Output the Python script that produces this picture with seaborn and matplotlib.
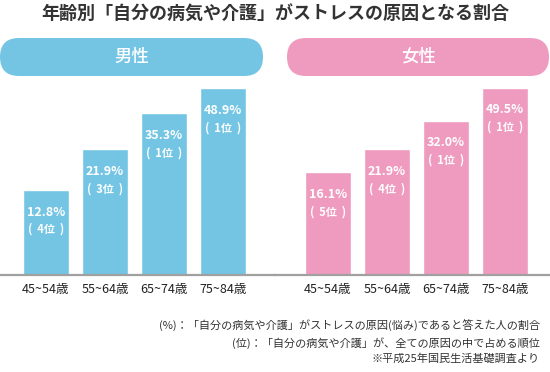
import matplotlib
matplotlib.use("Agg")
import matplotlib.pyplot as plt
import seaborn as sns
from matplotlib.patches import FancyBboxPatch

ages = ["45~54歳", "55~64歳", "65~74歳", "75~84歳"]
male_pct = [12.8, 21.9, 35.3, 48.9]
male_rank = [4, 3, 1, 1]
female_pct = [16.1, 21.9, 32.0, 49.5]
female_rank = [5, 4, 1, 1]

title = "年齢別「自分の病気や介護」がストレスの原因となる割合"
notes = ["(%)：「自分の病気や介護」がストレスの原因(悩み)であると答えた人の割合",
         "(位)：「自分の病気や介護」が、全ての原因の中で占める順位",
         "※平成25年国民生活基礎調査より"]

blue = "#74c5e4"
pink = "#ee9bbf"
dark = "#333333"

sns.set_style("white")
plt.rcParams['font.family'] = ['Noto Sans CJK JP', 'DejaVu Sans']

W, H = 550, 372
fig = plt.figure(figsize=(W/100, H/100), dpi=100)

def px_axes(x0, x1, ytop, ybot):
    return fig.add_axes([x0/W, 1-ybot/H, (x1-x0)/W, (ybot-ytop)/H])

def draw_panel(ax, pct, rank, color, first_center):
    sns.barplot(x=ages, y=pct, color=color, saturation=1, width=0.78, ax=ax)
    ax.set_yscale("log")
    ax.set_ylim(4.15, 51.2)
    span = 275/59
    xmin = -(first_center)/59
    ax.set_xlim(xmin, xmin+span)
    for i, (v, r) in enumerate(zip(pct, rank)):
        ax.annotate(f"{v:.1f}%", (i, v), xytext=(0, -16), textcoords="offset points",
                    ha="center", va="center", color="white", fontsize=9, fontweight="bold")
        ax.annotate(f"(  {r}位  )", (i, v), xytext=(0, -28.5), textcoords="offset points",
                    ha="center", va="center", color="white", fontsize=8, fontweight="bold")
    for s in ["top", "right", "left"]:
        ax.spines[s].set_visible(False)
    ax.spines["bottom"].set_color("#a0a0a0")
    ax.spines["bottom"].set_linewidth(1.6)
    ax.set_yticks([])
    ax.yaxis.set_minor_locator(plt.NullLocator())
    ax.set_ylabel("")
    ax.tick_params(axis="x", length=0, pad=6, labelsize=9, labelcolor="#222222")
    ax.set_facecolor("none")

ax1 = px_axes(0, 275, 85, 275)
draw_panel(ax1, male_pct, male_rank, blue, 46)
ax2 = px_axes(275, 550, 85, 275)
draw_panel(ax2, female_pct, female_rank, pink, 53)

# header pills
for (x0, x1, c, label) in [(0, 263, blue, "男性"), (287, 549, pink, "女性")]:
    pill = FancyBboxPatch((x0/100, (H-76)/100), (x1-x0)/100, 0.38,
                          boxstyle="round,pad=0,rounding_size=0.19",
                          transform=fig.dpi_scale_trans, facecolor=c, edgecolor="none")
    fig.patches.append(pill)
    fig.text((x0+x1)/2/W, 1-57/H, label, ha="center", va="center",
             color="white", fontsize=12.5, fontweight="medium")

fig.text(0.5, 1-14/H, title, ha="center", va="center", fontsize=13, fontweight="bold", color=dark)

for y, t in zip([326, 343, 359], notes):
    fig.text(540/W, 1-y/H, t, ha="right", va="center", fontsize=8, color=dark)

fig.savefig("out.png", dpi=100, facecolor="white")
